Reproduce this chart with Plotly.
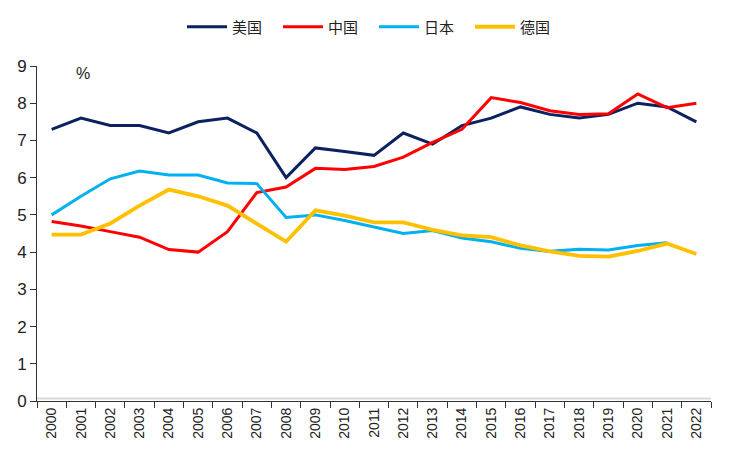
import plotly.graph_objects as go

years = [str(y) for y in range(2000, 2023)]
usa = [7.3, 7.6, 7.4, 7.4, 7.2, 7.5, 7.6, 7.2, 6.0, 6.8, 6.7, 6.6, 7.2, 6.9, 7.4, 7.6, 7.9, 7.7, 7.6, 7.7, 8.0, 7.9, 7.5]
china = [4.82, 4.7, 4.55, 4.4, 4.07, 4.0, 4.55, 5.6, 5.75, 6.25, 6.22, 6.3, 6.55, 6.95, 7.3, 8.15, 8.02, 7.8, 7.7, 7.72, 8.25, 7.88, 8.0]
japan = [5.0, 5.5, 5.97, 6.18, 6.07, 6.07, 5.86, 5.84, 4.93, 5.0, 4.85, 4.68, 4.5, 4.58, 4.38, 4.28, 4.1, 4.02, 4.08, 4.06, 4.18, 4.25, None]
germany = [4.47, 4.47, 4.77, 5.25, 5.68, 5.5, 5.25, 4.75, 4.28, 5.12, 4.98, 4.8, 4.8, 4.6, 4.45, 4.4, 4.18, 4.02, 3.9, 3.88, 4.03, 4.23, 3.95]

names = ["美国", "中国", "日本", "德国"]
colors = ["#0b2160", "#ff0000", "#00b0f0", "#ffc000"]
widths = [3, 3, 3, 3.8]
series = [usa, china, japan, germany]

fig = go.Figure()
for n, c, w, s in zip(names, colors, widths, series):
    fig.add_trace(go.Scatter(x=years, y=s, name=n, mode="lines",
                             line=dict(color=c, width=w), connectgaps=False))

fig.update_layout(
    width=734, height=463,
    margin=dict(l=37, r=23, t=66, b=62, autoexpand=False),
    paper_bgcolor="white", plot_bgcolor="white",
    font=dict(family="Liberation Sans, Arial, sans-serif", color="#222"),
    legend=dict(orientation="h", x=0.5, xanchor="center",
                yref="container", y=1 - 27 / 463, yanchor="middle",
                font=dict(family="Noto Sans CJK SC", size=15, color="#222"),
                itemwidth=40, tracegroupgap=0,
                entrywidth=41, entrywidthmode="pixels"),
    showlegend=True,
)
fig.update_xaxes(type="category", range=[-0.5, 22.5], tickson="boundaries",
                 ticks="outside", ticklen=6, tickcolor="#333", showline=True,
                 linecolor="#333", linewidth=1, showgrid=False, tickangle=-90,
                 automargin=False, tickfont=dict(size=14, color="#222"))
fig.update_yaxes(range=[0, 9], dtick=1, ticks="outside", ticklen=6, tickcolor="#333",
                 showline=True, linecolor="#333", linewidth=1, showgrid=False,
                 automargin=False, zeroline=False, tickfont=dict(size=17, color="#222"))
fig.add_shape(type="line", xref="x domain", yref="y domain", x0=0, x1=1,
              y0=2.5 / 335, y1=2.5 / 335, line=dict(color="#d9d9d9", width=2), layer="below")
fig.add_annotation(text="%", xref="x domain", yref="y domain",
                   x=(83 - 37) / 674, y=(401 - 73) / 335,
                   xanchor="center", yanchor="middle",
                   showarrow=False, font=dict(size=16, color="#222"))
fig.write_html("out.html", config={"displayModeBar": False},
               post_script="document.body.style.margin='0';document.body.style.overflow='hidden';")
